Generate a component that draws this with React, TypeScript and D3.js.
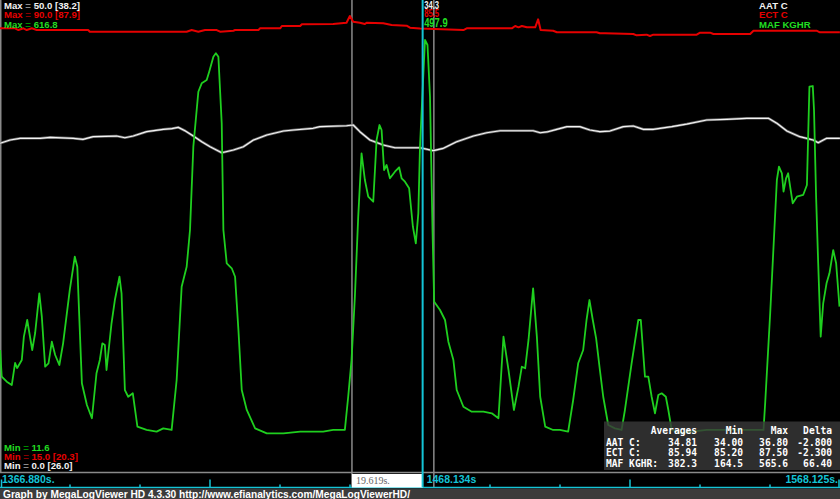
import React from "react";
import * as d3 from "d3";

// ---- time axis ----
const startTime = 1366.88;
const endTime = 1568.125;
const cursorTime = 1468.134;
const selectionStart = 1451.2;
const selectionLength = 19.619;
const startLabel = "1366.880s.";
const endLabel = "1568.125s.";
const cursorLabel = "1468.134s";
const selectionLabel = "19.619s.";

// ---- series ranges ----
const aatRange: [number, number] = [0, 50];
const ectRange: [number, number] = [15, 90];
const mafRange: [number, number] = [11.6, 616.8];

const seriesNames = ["AAT C", "ECT C", "MAF KGHR"];
const maxLabels = ["50.0 [38.2]", "90.0 [87.9]", "616.8"];
const minLabels = ["11.6", "15.0 [20.3]", "0.0 [26.0]"]; // green, red, white (top-down as drawn)
const cursorValues = ["34.3", "85.5", "497.9"];

const tableHeader = ["Averages", "Min", "Max", "Delta"];
const tableRows = [
  ["AAT C:", "34.81", "34.00", "36.80", "-2.800"],
  ["ECT C:", "85.94", "85.20", "87.50", "-2.300"],
  ["MAF KGHR:", "382.3", "164.5", "565.6", "66.40"],
];

// ---- series data [time s, value] ----
const aatPoints: [number, number][] = [
  [1366.9, 34.82], [1369.3, 35.17], [1371.7, 35.35], [1376.5, 35.35], [1378.9, 35.45],
  [1384.4, 35.35], [1386.8, 35.24], [1389.2, 35.52], [1394.8, 35.59], [1396.8, 35.41],
  [1398.8, 35.59], [1402.0, 36.05], [1406.0, 36.3], [1408.0, 36.37], [1409.6, 36.51],
  [1411.2, 36.15], [1413.2, 35.59], [1415.2, 34.99], [1417.2, 34.46], [1420.0, 33.82],
  [1422.8, 34.11], [1425.2, 34.46], [1427.6, 35.17], [1430.8, 35.7], [1434.8, 36.12],
  [1437.2, 36.23], [1441.9, 36.41], [1443.5, 36.58], [1449.9, 36.68], [1451.5, 36.76],
  [1453.1, 36.05], [1455.5, 35.17], [1458.7, 34.64], [1461.5, 34.35], [1467.5, 34.35],
  [1470.7, 34.04], [1473.1, 34.29], [1476.3, 34.99], [1480.3, 35.59], [1483.5, 35.94],
  [1486.7, 36.15], [1494.6, 36.15], [1496.3, 35.94], [1497.9, 36.02], [1500.3, 36.3],
  [1502.7, 36.58], [1505.8, 36.58], [1508.2, 36.23], [1510.6, 36.05], [1513.0, 36.12],
  [1516.2, 36.58], [1518.6, 36.65], [1521.0, 36.3], [1523.4, 36.3], [1527.8, 36.58],
  [1531.4, 36.86], [1536.2, 37.29], [1541.0, 37.36], [1545.8, 37.47], [1551.0, 37.47],
  [1553.0, 36.94], [1555.4, 36.12], [1558.5, 35.52], [1561.7, 35.17], [1562.9, 34.88],
  [1564.9, 35.35], [1568.1, 35.35],
];

const ectPoints: [number, number][] = [
  [1366.9, 85.5], [1370.5, 85.5], [1371.3, 85.23], [1372.5, 85.5], [1373.3, 85.23],
  [1374.5, 85.5], [1375.7, 85.23], [1388.0, 85.23], [1388.4, 84.96], [1411.6, 84.96],
  [1412.8, 85.23], [1414.4, 84.96], [1416.0, 85.23], [1418.8, 85.23], [1419.6, 84.96],
  [1422.8, 85.12], [1423.2, 85.23], [1428.8, 85.23], [1429.2, 85.5], [1434.0, 85.5],
  [1434.4, 85.87], [1438.8, 85.87], [1439.2, 86.14], [1446.7, 86.19], [1449.9, 86.39],
  [1450.7, 87.46], [1451.5, 86.55], [1453.1, 86.39], [1454.3, 86.19], [1454.7, 86.39],
  [1458.7, 86.3], [1460.7, 86.03], [1464.3, 85.92], [1465.1, 85.6], [1467.5, 85.47],
  [1477.9, 85.23], [1478.7, 85.5], [1489.5, 85.5], [1490.3, 85.87], [1491.1, 85.66],
  [1491.9, 85.87], [1493.1, 85.66], [1495.1, 85.66], [1495.8, 86.93], [1496.4, 85.23],
  [1499.4, 85.12], [1500.3, 84.87], [1509.8, 84.87], [1510.6, 84.71], [1511.8, 84.71],
  [1518.6, 84.6], [1519.4, 84.39], [1521.8, 84.49], [1522.6, 84.28], [1523.4, 84.49],
  [1533.8, 84.49], [1534.6, 84.81], [1537.0, 84.81], [1537.8, 84.6], [1546.6, 84.6],
  [1547.4, 85.12], [1562.5, 85.12], [1563.3, 84.87], [1568.1, 84.87],
];

const mafPoints: [number, number][] = [
  [1366.9, 168.0], [1367.3, 133.8], [1368.5, 127.4], [1369.7, 123.1], [1370.5, 151.4],
  [1371.0, 144.9], [1372.1, 155.2], [1372.6, 185.1], [1373.4, 206.5], [1374.6, 168.0],
  [1375.3, 189.8], [1376.3, 240.7], [1376.9, 210.7], [1377.7, 146.6], [1378.5, 151.0],
  [1379.3, 178.7], [1380.1, 161.6], [1381.1, 148.8], [1382.0, 176.6], [1383.6, 245.0],
  [1384.8, 287.7], [1385.4, 274.8], [1386.5, 125.3], [1387.7, 97.5], [1388.9, 80.5],
  [1390.0, 138.2], [1390.8, 155.2], [1391.4, 176.6], [1392.0, 174.4], [1392.4, 142.4],
  [1393.6, 202.3], [1394.4, 232.1], [1395.5, 262.0], [1396.0, 240.7], [1396.8, 116.7],
  [1397.6, 108.1], [1398.7, 112.5], [1399.8, 69.7], [1402.0, 65.5], [1404.4, 63.3],
  [1406.0, 67.6], [1408.0, 65.5], [1409.2, 129.6], [1410.4, 249.2], [1411.6, 274.8],
  [1412.4, 321.9], [1413.2, 428.7], [1414.4, 499.2], [1415.2, 510.0], [1416.4, 514.2],
  [1417.0, 524.9], [1418.0, 544.1], [1418.6, 548.5], [1419.2, 544.1], [1420.0, 458.7],
  [1420.4, 321.9], [1421.2, 279.2], [1422.4, 272.8], [1423.2, 262.0], [1424.0, 193.7],
  [1424.8, 116.7], [1426.0, 91.1], [1428.0, 67.6], [1430.8, 61.2], [1434.8, 61.2],
  [1438.8, 63.3], [1444.3, 63.3], [1446.7, 65.5], [1449.5, 65.5], [1450.3, 108.1],
  [1451.1, 155.2], [1451.9, 236.4], [1452.7, 338.9], [1453.5, 420.2], [1454.3, 386.0],
  [1455.1, 364.6], [1456.3, 358.2], [1457.1, 437.3], [1457.8, 456.5], [1458.3, 450.1],
  [1458.9, 398.8], [1459.5, 405.2], [1460.3, 388.2], [1461.5, 396.6], [1462.5, 402.3],
  [1463.1, 388.2], [1463.9, 383.8], [1464.9, 375.4], [1465.8, 326.1], [1466.5, 304.8],
  [1467.1, 343.3], [1467.5, 428.7], [1468.1, 497.9], [1468.7, 565.6], [1469.3, 559.1],
  [1469.9, 492.8], [1470.5, 321.9], [1470.9, 230.0], [1472.3, 219.3], [1473.5, 206.5],
  [1474.3, 178.7], [1475.5, 155.2], [1476.3, 116.7], [1477.9, 95.3], [1479.9, 88.9],
  [1482.7, 88.9], [1484.7, 86.9], [1486.3, 80.5], [1487.5, 185.1], [1488.7, 142.4],
  [1490.0, 91.1], [1491.1, 121.0], [1491.9, 146.6], [1492.7, 144.6], [1493.5, 180.9],
  [1494.6, 247.1], [1495.5, 185.1], [1496.3, 108.1], [1497.5, 69.7], [1499.4, 65.5],
  [1501.0, 65.5], [1503.0, 63.3], [1504.2, 103.9], [1505.4, 151.0], [1506.6, 168.0],
  [1507.4, 206.5], [1508.1, 232.1], [1508.9, 206.5], [1509.7, 183.0], [1510.6, 142.4],
  [1511.4, 108.1], [1512.6, 71.9], [1514.2, 67.6], [1515.8, 65.5], [1516.6, 91.1],
  [1518.2, 151.0], [1519.8, 206.5], [1520.4, 206.5], [1521.4, 133.8], [1522.2, 133.8],
  [1523.0, 108.1], [1523.8, 86.9], [1524.6, 110.3], [1525.4, 112.5], [1526.4, 108.1],
  [1527.0, 91.1], [1527.8, 65.5], [1529.8, 61.6], [1536.2, 65.5], [1545.8, 65.5],
  [1549.8, 65.5], [1550.2, 100.1], [1551.4, 215.1], [1552.2, 300.5], [1553.0, 386.0],
  [1553.5, 403.1], [1554.2, 394.6], [1554.6, 371.0], [1555.2, 388.2], [1555.7, 394.6],
  [1556.3, 373.2], [1556.8, 356.1], [1557.8, 364.6], [1559.3, 366.8], [1560.2, 379.6],
  [1560.8, 505.6], [1561.6, 506.5], [1561.9, 475.8], [1562.4, 364.6], [1562.9, 279.2],
  [1563.5, 185.1], [1564.1, 227.9], [1564.9, 253.5], [1565.6, 266.4], [1566.5, 296.2],
  [1567.2, 279.2], [1568.0, 223.6],
];

// ---- layout / style constants ----
const W = 840;
const H = 499;
const plotTop = 0;
const plotBottom = 472;
const axisBase = 487;
const sans = "'Liberation Sans', Arial, sans-serif";
const mono = "'DejaVu Sans Mono', monospace";
const WHITE = "#f2f2f2";
const RED = "#e60000";
const GREEN = "#22dd22";
const CYAN = "#14c4d6";
const GRAY = "#8a8a8a";

export default function App() {
  const x = d3.scaleLinear().domain([startTime, endTime]).range([0, W]);
  const yAAT = d3.scaleLinear().domain(aatRange).range([plotBottom, plotTop]);
  const yECT = d3.scaleLinear().domain(ectRange).range([plotBottom, plotTop]);
  const yMAF = d3.scaleLinear().domain(mafRange).range([plotBottom, plotTop]);

  const mk = (ys: d3.ScaleLinear<number, number>) =>
    d3
      .line<[number, number]>()
      .x((d) => x(d[0]))
      .y((d) => ys(d[1]));

  const aatPath = mk(yAAT)(aatPoints) || "";
  const ectPath = mk(yECT)(ectPoints) || "";
  const mafPath = mk(yMAF)(mafPoints) || "";

  const step = (endTime - startTime) / 12;
  const ticks = d3.range(13).map((k) => ({ t: startTime + k * step, major: k % 3 === 0 }));

  const xc = x(cursorTime);
  const xs0 = x(selectionStart);
  const xs1 = x(selectionStart + selectionLength);

  const colors = [WHITE, RED, GREEN];
  const dims = ["#8c8c8c", "#8a0000", "#008a00"];
  const maxBase = [9, 18.3, 27.5];
  const minColors = [GREEN, RED, WHITE];
  const minDims = ["#008a00", "#8a0000", "#8c8c8c"];
  const minBase = [450.6, 460, 469.3];

  const colRight = [697, 743, 788, 832];
  const rowBase = [445.6, 456, 466.5];

  return (
    <svg
      width={W}
      height={H}
      style={{ position: "absolute", left: 0, top: 0, display: "block", background: "#000" }}
    >
      <rect x={0} y={0} width={W} height={H} fill="#000" />

      {/* left border and plot bottom border */}
      <line x1={0.75} x2={0.75} y1={0} y2={plotBottom} stroke={GRAY} strokeWidth={1.5} />
      <line x1={0} x2={W} y1={plotBottom + 0.5} y2={plotBottom + 0.5} stroke={GRAY} strokeWidth={1.5} />

      {/* selection lines */}
      <line x1={xs0} x2={xs0} y1={0} y2={axisBase} stroke={GRAY} strokeWidth={1.5} />
      <line x1={xs1} x2={xs1} y1={0} y2={axisBase} stroke={GRAY} strokeWidth={1.5} />

      {/* series */}
      <path d={aatPath} fill="none" stroke="#6a6a6a" strokeWidth={2.6} strokeLinejoin="round" />
      <path d={aatPath} fill="none" stroke="#f4f4f4" strokeWidth={1.2} strokeLinejoin="round" />
      <path d={ectPath} fill="none" stroke={RED} strokeWidth={2} strokeLinejoin="round" />
      <path d={mafPath} fill="none" stroke="#1fcf1f" strokeWidth={1.8} strokeLinejoin="round" />

      {/* stats table */}
      <rect x={604} y={421.5} width={W - 604} height={48.5} fill="#383838" fillOpacity={0.82} />
      <g fontFamily={mono} fontWeight="bold" fontSize={9.6} fill="#fff">
        {tableHeader.map((h, i) => (
          <text key={h} x={colRight[i]} y={433.6} textAnchor="end">
            {h}
          </text>
        ))}
        {tableRows.map((r, ri) => (
          <g key={r[0]}>
            <text x={606} y={rowBase[ri]}>
              {r[0]}
            </text>
            {r.slice(1).map((v, ci) => (
              <text key={ci} x={colRight[ci]} y={rowBase[ri]} textAnchor="end">
                {v}
              </text>
            ))}
          </g>
        ))}
      </g>

      {/* max / min labels and series names */}
      <g fontFamily={sans} fontWeight="bold" fontSize={9.6}>
        {maxLabels.map((l, i) => (
          <text key={i} x={4} y={maxBase[i]} fill={colors[i]}>
            Max <tspan fill={dims[i]}>=</tspan> {l}
          </text>
        ))}
        {minLabels.map((l, i) => (
          <text key={i} x={4} y={minBase[i]} fill={minColors[i]}>
            Min <tspan fill={minDims[i]}>=</tspan> {l}
          </text>
        ))}
        {seriesNames.map((n, i) => (
          <text key={n} x={759} y={maxBase[i]} fill={colors[i]}>
            {n}
          </text>
        ))}
      </g>

      {/* axis strip */}
      <line x1={0} x2={W} y1={axisBase + 0.5} y2={axisBase + 0.5} stroke={CYAN} strokeWidth={1.5} />
      {ticks.map((tk, i) => (
        <line
          key={i}
          x1={Math.min(Math.max(x(tk.t), 1.5), W - 1)}
          x2={Math.min(Math.max(x(tk.t), 1.5), W - 1)}
          y1={tk.major ? 479.5 : 484.5}
          y2={axisBase + 0.5}
          stroke={CYAN}
          strokeWidth={1.5}
        />
      ))}
      <rect x={xs0} y={474} width={xc - xs0} height={13.5} fill="#fff" />
      <text x={xs0 + 4} y={484} fontFamily="'Liberation Serif', 'DejaVu Serif', serif" fontSize={10} fill="#666">
        {selectionLabel}
      </text>
      <g fontFamily={sans} fontWeight="bold" fontSize={10.5} fill={CYAN}>
        <text x={2} y={482.5}>
          {startLabel}
        </text>
        <text x={838} y={482.5} textAnchor="end">
          {endLabel}
        </text>
        <text x={xc + 4} y={482.5}>
          {cursorLabel}
        </text>
      </g>

      {/* cursor */}
      <line x1={xc} x2={xc} y1={0} y2={axisBase} stroke={CYAN} strokeWidth={2} />
      <g fontFamily={sans} fontWeight="bold">
        <text x={xc + 1.5} y={8.8} fontSize={10.5} fill={WHITE} textLength={15} lengthAdjust="spacingAndGlyphs">
          {cursorValues[0]}
        </text>
        <text x={xc + 1.5} y={17.4} fontSize={10.5} fill={RED} textLength={15} lengthAdjust="spacingAndGlyphs">
          {cursorValues[1]}
        </text>
        <text x={xc + 1.5} y={27.3} fontSize={12} fill={GREEN} textLength={23.5} lengthAdjust="spacingAndGlyphs">
          {cursorValues[2]}
        </text>
      </g>

      {/* footer */}
      <rect x={0} y={488.5} width={W} height={H - 488.5} fill="#3b3b3b" />
      <text x={3} y={497.5} fontFamily={sans} fontWeight="bold" fontSize={10} fill="#fff" textLength={407} lengthAdjust="spacingAndGlyphs">
        Graph by MegaLogViewer HD 4.3.30 http://www.efianalytics.com/MegaLogViewerHD/
      </text>
    </svg>
  );
}
